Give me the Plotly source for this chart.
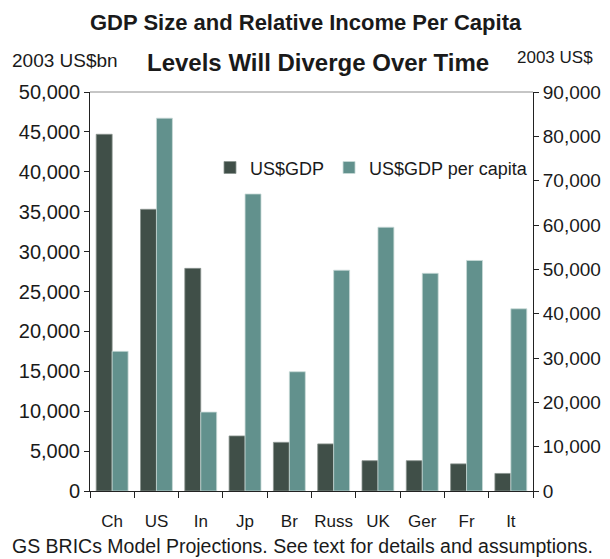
import plotly.graph_objects as go

# data
countries = ["Ch", "US", "In", "Jp", "Br", "Russ", "UK", "Ger", "Fr", "It"]
gdp_bn = [44700, 35300, 27900, 6900, 6100, 5900, 3800, 3800, 3400, 2200]
gdp_per_capita = [31500, 84100, 17800, 67000, 26900, 49800, 59500, 49100, 52000, 41100]

DARK = "#404f48"
TEAL = "#62918d"
FONT = "Liberation Sans, Arial"

fig = go.Figure()

fig.add_trace(go.Bar(
    name="US$GDP",
    x=countries,
    y=gdp_bn,
    marker_color=DARK,
    marker_line=dict(color="#8a948f", width=0.8),
    offsetgroup=1,
    yaxis="y",
))
fig.add_trace(go.Bar(
    name="US$GDP per capita",
    x=countries,
    y=gdp_per_capita,
    marker_color=TEAL,
    marker_line=dict(color="#c9dad8", width=0.8),
    offsetgroup=2,
    yaxis="y2",
))

# page body has an 8px margin, so the figure is sized to fit the window
fig.update_layout(
    width=602,
    height=551,
    margin=dict(l=82, r=77, t=84, b=68, autoexpand=False),
    paper_bgcolor="white",
    plot_bgcolor="white",
    barmode="group",
    bargap=0.28,
    bargroupgap=0,
    font=dict(family=FONT, size=19, color="#1a1a1a"),
    showlegend=True,
    legend=dict(
        orientation="h",
        x=1, xanchor="right",
        y=0.81, yanchor="middle",
        bgcolor="rgba(0,0,0,0)",
        font=dict(size=18),
        itemwidth=30,
        tracegroupgap=0,
    ),
    xaxis=dict(
        showline=True, linecolor="#222", linewidth=1,
        ticks="outside", ticklen=6, tickcolor="#222",
        tickson="boundaries", tickangle=0, automargin=False,
        ticklabelstandoff=15,
        tickfont=dict(size=17),
        showgrid=False,
    ),
    yaxis=dict(
        range=[0, 50000], dtick=5000, tickformat=",",
        showline=True, linecolor="#222", linewidth=1,
        ticks="outside", ticklen=5, tickcolor="#222",
        showgrid=False, zeroline=False, automargin=False,
        tickfont=dict(size=20),
    ),
    yaxis2=dict(
        range=[0, 90000], dtick=10000, tickformat=",",
        overlaying="y", side="right",
        showline=True, linecolor="#222", linewidth=1,
        ticks="outside", ticklen=5, tickcolor="#222",
        showgrid=False, zeroline=False, automargin=False,
        tickfont=dict(size=19),
    ),
)

# top frame line
fig.add_shape(type="line", xref="paper", yref="paper", x0=0, x1=1, y0=1, y1=1,
              line=dict(color="#8c8c8c", width=1))

fig.add_annotation(text="<b>GDP Size and Relative Income Per Capita</b>",
                   xref="paper", yref="paper", x=0.487, y=1.0, yshift=70,
                   xanchor="center", yanchor="middle", showarrow=False,
                   font=dict(size=22))
fig.add_annotation(text="<b>Levels Will Diverge Over Time</b>",
                   xref="paper", yref="paper", x=0.515, y=1.0, yshift=30,
                   xanchor="center", yanchor="middle", showarrow=False,
                   font=dict(size=24))
fig.add_annotation(text="2003 US$bn", xref="paper", yref="paper",
                   x=0, xshift=-80, y=1.0, yshift=32, xanchor="left", yanchor="middle",
                   showarrow=False, font=dict(size=19))
fig.add_annotation(text="2003 US$", xref="paper", yref="paper",
                   x=1, xshift=-18, y=1.0, yshift=35, xanchor="left", yanchor="middle",
                   showarrow=False, font=dict(size=17))
fig.add_annotation(text="GS BRICs Model Projections. See text for details and assumptions.",
                   xref="paper", yref="paper", x=0, xshift=-80, y=0, yshift=-55,
                   xanchor="left", yanchor="middle", showarrow=False,
                   font=dict(size=19.5))

fig.write_html("out.html")
